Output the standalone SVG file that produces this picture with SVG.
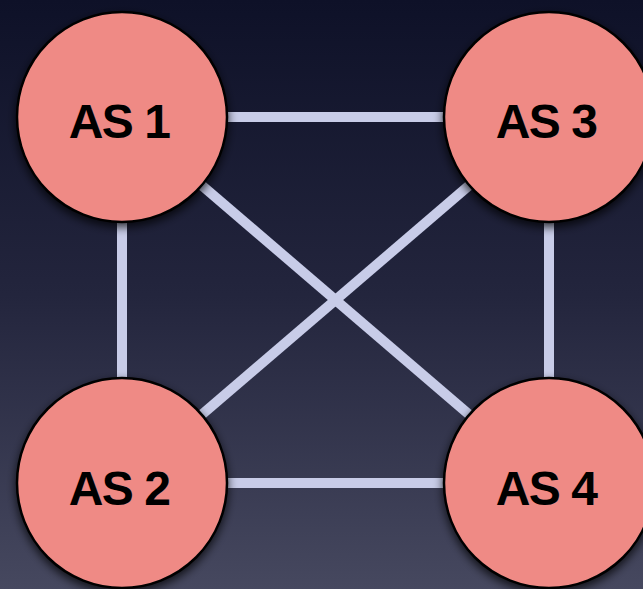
<svg xmlns="http://www.w3.org/2000/svg" width="643" height="589" viewBox="0 0 643 589">
  <defs>
    <linearGradient id="bg" x1="0" y1="0" x2="0" y2="1">
      <stop offset="0" stop-color="#0e1128"/>
      <stop offset="0.5" stop-color="#23253d"/>
      <stop offset="1" stop-color="#46485f"/>
    </linearGradient>
    <filter id="shadow" x="-30%" y="-30%" width="160%" height="160%">
      <feDropShadow dx="0" dy="4" stdDeviation="5" flood-color="#000" flood-opacity="0.75"/>
    </filter>
    <style>
      .link { stroke: #c8cce8; stroke-width: 10; fill: none; }
      .node circle { fill: #ef8a85; stroke: #000; stroke-width: 2.5; filter: url(#shadow); }
      .node text { font-family: "Liberation Sans", Arial, sans-serif; font-weight: bold; font-size: 48px; fill: #000; text-anchor: middle; letter-spacing: -1.5px; }
    </style>
  </defs>
  <rect width="643" height="589" fill="url(#bg)"/>
  <g id="connectors">
    <line class="link" x1="122" y1="117" x2="549" y2="117"/>
    <line class="link" x1="122" y1="483" x2="549" y2="483"/>
    <line class="link" x1="122" y1="117" x2="122" y2="483"/>
    <line class="link" x1="549" y1="117" x2="549" y2="483"/>
    <line class="link" x1="122" y1="117" x2="549" y2="483"/>
    <line class="link" x1="549" y1="117" x2="122" y2="483"/>
  </g>
  <g id="as1" class="node">
    <circle cx="122" cy="117" r="105"/>
    <text x="119" y="138">AS 1</text>
  </g>
  <g id="as3" class="node">
    <circle cx="549" cy="117" r="105"/>
    <text x="546" y="138">AS 3</text>
  </g>
  <g id="as2" class="node">
    <circle cx="122" cy="483" r="105"/>
    <text x="119" y="505">AS 2</text>
  </g>
  <g id="as4" class="node">
    <circle cx="549" cy="483" r="105"/>
    <text x="546" y="505">AS 4</text>
  </g>
</svg>
